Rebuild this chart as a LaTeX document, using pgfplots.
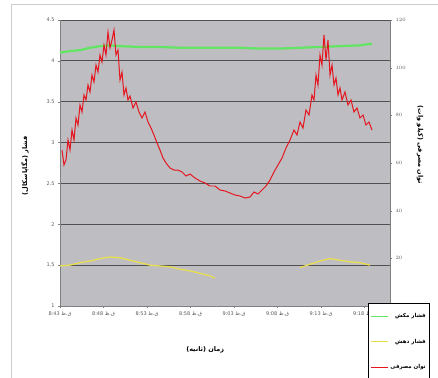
\documentclass[border=0pt]{standalone}
\usepackage{fontspec}
\usepackage{pgfplots}
\pgfplotsset{compat=1.18}
\setmainfont{DejaVu Sans}
\newfontfamily\arabicfont[Script=Arabic]{DejaVu Sans}
\TeXXeTstate=1
\definecolor{plotbg}{RGB}{190,190,194}
\definecolor{gridc}{RGB}{80,80,80}
\definecolor{greenl}{RGB}{100,228,100}
\definecolor{yell}{RGB}{232,222,80}
\definecolor{redl}{RGB}{230,20,30}
\definecolor{framec}{RGB}{205,205,205}
\newcommand{\tl}[1]{{#1 \arabicfont\beginR ق.ظ\endR}}
\begin{document}
\begin{tikzpicture}
\useasboundingbox (-60bp,-72bp) rectangle (378bp,306bp);
\clip (-60bp,-72bp) rectangle (378bp,306bp);
\fill[white] (-60bp,-72bp) rectangle (378bp,306bp);
\draw[framec, line width=1bp] (-48bp,-80bp) rectangle (390bp,301bp);
\begin{axis}[
  scale only axis,
  width=330bp, height=286bp,
  xmin=0, xmax=330, ymin=1, ymax=4.5,
  axis background/.style={fill=plotbg},
  axis x line*=bottom, axis y line*=left,
  axis line style={gray, line width=0.6pt},
  ytick={1,1.5,2,2.5,3,3.5,4,4.5},
  yticklabels={1,1.5,2,2.5,3,3.5,4,4.5},
  xtick={0,43.5,87,130.5,174,217.5,261,304.5},
  xticklabels={\tl{8:43},\tl{8:48},\tl{8:53},\tl{8:58},\tl{9:03},\tl{9:08},\tl{9:13},\tl{9:18}},
  tick label style={font=\fontsize{5}{6}\selectfont, text=gray!70!black},
  tick align=outside, major tick length=2bp, tick style={gray},
  ymajorgrids, grid style={gridc, line width=0.8pt},
  xlabel={\arabicfont\bfseries\beginR زمان (ثانیه)\endR},
  xlabel style={at={(axis description cs:0.44,-0.154)}, anchor=center, font=\fontsize{6.5}{8}\selectfont},
  ylabel={\arabicfont\bfseries\beginR فشار (مگاپاسکال)\endR},
  ylabel style={at={(axis description cs:-0.106,0.49)}, anchor=center, font=\fontsize{6.5}{8}\selectfont},
]
\addplot[greenl, line width=2.3pt] coordinates {
(0,4.10)(10,4.12)(20,4.13)(30,4.16)(40,4.18)(50,4.19)(60,4.18)(80,4.17)(100,4.17)(120,4.16)(140,4.16)(160,4.16)(180,4.16)(200,4.15)(220,4.15)(240,4.16)(260,4.17)(280,4.18)(300,4.19)(312,4.21)};
\addplot[yell, line width=1.3pt] coordinates {
(0,1.49)(10,1.50)(20,1.53)(30,1.55)(40,1.58)(50,1.60)(60,1.59)(70,1.56)(80,1.53)(90,1.50)(100,1.49)(110,1.48)(120,1.45)(130,1.43)(140,1.40)(150,1.37)(155,1.34)};
\addplot[yell, line width=1.3pt] coordinates {
(240,1.47)(250,1.51)(260,1.55)(270,1.58)(280,1.56)(290,1.54)(300,1.53)(310,1.50)};
\end{axis}
\begin{axis}[
  scale only axis,
  width=330bp, height=286bp,
  xmin=0, xmax=330, ymin=0, ymax=120,
  axis x line=none, axis y line*=right,
  axis line style={gray, line width=0.6pt},
  ytick={0,20,40,60,80,100,120},
  tick label style={font=\fontsize{5}{6}\selectfont, text=gray!70!black},
  tick align=outside, major tick length=2bp, tick style={gray},
  ylabel={\arabicfont\bfseries\beginR توان مصرفی (کیلو وات)\endR},
  ylabel style={at={(axis description cs:1.091,0.563)}, anchor=center, rotate=180, font=\fontsize{6.5}{8}\selectfont},
  legend style={at={(0.933,0.0105)}, anchor=north west, draw=black, line width=0.8pt, fill=white,
    font=\arabicfont\bfseries\fontsize{5.5}{6.5}\selectfont, row sep=16bp, inner xsep=2bp, inner ysep=8bp},
  legend cell align=right,
]
\addlegendimage{greenl, line width=1.2pt}
\addlegendentry{\beginR فشار مکش\endR}
\addlegendimage{yell, line width=1.2pt}
\addlegendentry{\beginR فشار دهش\endR}
\addplot[redl, line width=1pt] coordinates {
(2,65.45)(4,59.16)(6,61.26)(8,69.65)(10,65.45)(12,73.85)(14,69.65)(16,78.88)(18,75.94)(20,84.34)
(22,81.40)(24,88.53)(26,86.43)(28,92.73)(30,89.79)(32,96.92)(34,93.99)(36,101.12)(38,98.18)(40,105.31)
(42,102.38)(44,109.51)(46,105.31)(48,114.97)(50,108.25)(52,111.61)(54,115.80)(56,105.31)(58,107.41)(60,94.83)
(62,98.18)(64,88.53)(66,91.47)(68,86.43)(70,88.11)(73,83.08)(76,85.59)(79,81.40)(82,78.88)(85,81.40)
(88,77.20)(91,74.69)(94,71.75)(97,68.39)(100,65.45)(103,62.10)(106,60.00)(110,57.90)(114,57.06)(118,57.06)
(122,56.22)(126,54.55)(130,55.39)(135,53.71)(140,52.45)(145,51.61)(150,50.35)(155,50.35)(160,48.67)(165,48.25)
(170,47.41)(175,46.57)(180,46.15)(185,45.31)(190,45.73)(194,47.83)(198,46.99)(202,48.67)(206,50.35)(210,52.87)
(214,56.22)(218,59.16)(222,62.10)(226,66.29)(230,69.65)(234,73.85)(237,71.75)(240,77.20)(243,74.69)(246,82.24)
(249,80.14)(252,88.53)(254,86.43)(256,96.92)(258,92.73)(260,105.31)(262,101.12)(264,113.71)(266,103.22)(268,111.61)
(270,96.92)(272,101.12)(274,92.73)(276,95.66)(278,88.53)(280,91.47)(282,86.43)(285,89.79)(288,84.34)(291,86.43)
(294,81.40)(297,83.08)(300,78.88)(303,80.14)(306,75.94)(309,77.20)(312,73.85)};
\addlegendentry{\beginR توان مصرفی\endR}
\end{axis}
\end{tikzpicture}
\end{document}
